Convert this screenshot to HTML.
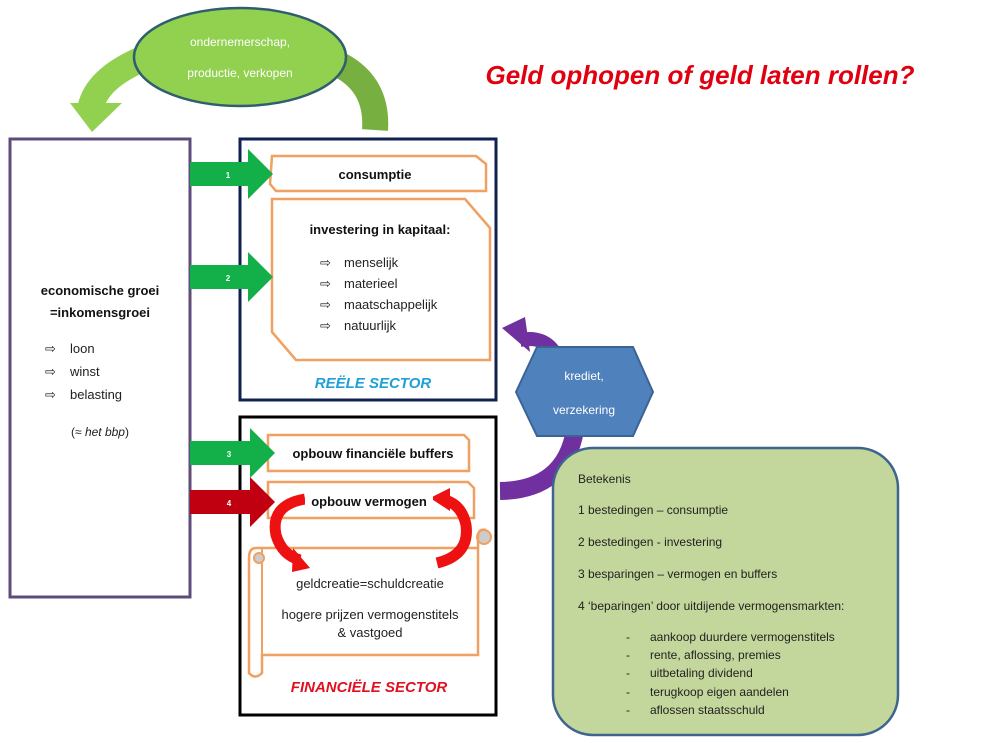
<!DOCTYPE html>
<html><head><meta charset="utf-8"><style>
html,body{margin:0;padding:0;background:#fff;}
svg{display:block;font-family:"Liberation Sans",Arial,sans-serif;}
</style></head><body>
<svg width="993" height="743" viewBox="0 0 993 743" xmlns="http://www.w3.org/2000/svg">
<!-- top green arcs -->
<path d="M140,60 Q95,80 90,110" fill="none" stroke="#92d050" stroke-width="26"/>
<polygon points="70,103 122,103 92,132" fill="#92d050"/>
<path d="M340,65 Q378,85 375,130" fill="none" stroke="#77b040" stroke-width="26"/>
<ellipse cx="240" cy="57" rx="106" ry="49" fill="#92d050" stroke="#2f5e6e" stroke-width="2.5"/>
<text x="240" y="46" font-size="12" fill="#fff" text-anchor="middle">ondernemerschap,</text>
<text x="240" y="77" font-size="12" fill="#fff" text-anchor="middle">productie, verkopen</text>
<text x="700" y="84" font-size="26" font-weight="bold" font-style="italic" fill="#e00010" text-anchor="middle">Geld ophopen of geld laten rollen?</text>

<!-- left box -->
<rect x="10" y="139" width="180" height="458" fill="#fff" stroke="#5f4b7a" stroke-width="3"/>
<text x="100" y="295" font-size="13" font-weight="bold" text-anchor="middle" fill="#111">economische groei</text>
<text x="100" y="317" font-size="13" font-weight="bold" text-anchor="middle" fill="#111">=inkomensgroei</text>
<g font-size="13" fill="#222">
<text x="45" y="353">⇨</text><text x="70" y="353">loon</text>
<text x="45" y="376">⇨</text><text x="70" y="376">winst</text>
<text x="45" y="399">⇨</text><text x="70" y="399">belasting</text>
</g>
<text x="100" y="436" font-size="12" text-anchor="middle" fill="#222">(≈ <tspan font-style="italic">het bbp</tspan>)</text>

<!-- reele box -->
<rect x="240" y="139" width="256" height="261" fill="#fff" stroke="#0f2150" stroke-width="3"/>
<polygon points="272,156 476,156 486,164 486,191 276,191 270,184" fill="#fff" stroke="#f0a060" stroke-width="2.5"/>
<text x="375" y="179" font-size="13" font-weight="bold" text-anchor="middle" fill="#111">consumptie</text>
<polygon points="272,199 465,199 490,228 490,360 296,360 272,332" fill="#fff" stroke="#f0a060" stroke-width="2.5"/>
<text x="380" y="234" font-size="13" font-weight="bold" text-anchor="middle" fill="#111">investering in kapitaal:</text>
<g font-size="13" fill="#222">
<text x="320" y="267">⇨</text><text x="344" y="267">menselijk</text>
<text x="320" y="288">⇨</text><text x="344" y="288">materieel</text>
<text x="320" y="309">⇨</text><text x="344" y="309">maatschappelijk</text>
<text x="320" y="330">⇨</text><text x="344" y="330">natuurlijk</text>
</g>
<text x="373" y="388" font-size="15" font-weight="bold" font-style="italic" fill="#1ea0d8" text-anchor="middle">REËLE SECTOR</text>

<!-- financiele box -->
<rect x="240" y="417" width="256" height="298" fill="#fff" stroke="#000" stroke-width="3"/>
<polygon points="268,435 464,435 469,440 469,471 268,471" fill="#fff" stroke="#f0a060" stroke-width="2.5"/>
<text x="373" y="458" font-size="13" font-weight="bold" text-anchor="middle" fill="#111">opbouw financiële buffers</text>
<polygon points="268,482 468,482 474,488 474,518 268,518" fill="#fff" stroke="#f0a060" stroke-width="2.5"/>
<!-- scroll -->
<path d="M256,548 L478,548 L478,655 L262,655 L262,673 Q255,680 249,673 L249,558 Q249,548 256,548 Z" fill="#fff" stroke="#f0a060" stroke-width="2.5"/>
<path d="M262,548 L262,655" stroke="#f0a060" stroke-width="2" fill="none"/>
<circle cx="484" cy="537" r="7" fill="#ccc" stroke="#f0a060" stroke-width="2"/>
<path d="M478,548 L478,537 Q478,528 486,530" fill="none" stroke="#f0a060" stroke-width="2.5"/>
<circle cx="259" cy="558" r="5" fill="#ccc" stroke="#f0a060" stroke-width="2"/>
<text x="370" y="588" font-size="13" text-anchor="middle" fill="#222">geldcreatie=schuldcreatie</text>
<text x="370" y="619" font-size="13" text-anchor="middle" fill="#222">hogere prijzen vermogenstitels</text>
<text x="370" y="637" font-size="13" text-anchor="middle" fill="#222">&amp;  vastgoed</text>
<!-- red curved arrows -->
<path d="M305,499 Q270,505 276,535 Q282,555 300,560" fill="none" stroke="#ee1111" stroke-width="11"/>
<polygon points="293,548 310,568 292,572" fill="#ee1111"/>
<path d="M437,563 Q470,555 466,525 Q462,505 445,500" fill="none" stroke="#ee1111" stroke-width="11"/>
<polygon points="450,488 430,498 450,511" fill="#ee1111"/>
<rect x="305" y="490" width="128" height="22" fill="#fff"/>
<text x="369" y="506" font-size="13" font-weight="bold" text-anchor="middle" fill="#111">opbouw vermogen</text>
<text x="369" y="692" font-size="15" font-weight="bold" font-style="italic" fill="#e01020" text-anchor="middle">FINANCIËLE SECTOR</text>

<!-- numbered arrows -->
<g>
<polygon points="190,162 248,162 248,149 273,174 248,199 248,186 190,186" fill="#13b04a"/>
<text x="228" y="178" font-size="8" font-weight="bold" fill="#fff" text-anchor="middle">1</text>
<polygon points="190,265 248,265 248,252 273,277 248,302 248,289 190,289" fill="#13b04a"/>
<text x="228" y="281" font-size="8" font-weight="bold" fill="#fff" text-anchor="middle">2</text>
<polygon points="190,441 250,441 250,428 275,453 250,478 250,465 190,465" fill="#13b04a"/>
<text x="229" y="457" font-size="8" font-weight="bold" fill="#fff" text-anchor="middle">3</text>
<polygon points="190,490 250,490 250,477 275,502 250,527 250,514 190,514" fill="#c00010"/>
<text x="229" y="506" font-size="8" font-weight="bold" fill="#fff" text-anchor="middle">4</text>
</g>

<!-- purple arcs -->
<path d="M575,430 Q565,490 500,491" fill="none" stroke="#7030a0" stroke-width="18"/>
<path d="M556,355 Q545,335 520,340" fill="none" stroke="#7030a0" stroke-width="14"/>
<polygon points="502,328 525,317 530,352" fill="#7030a0"/>
<!-- hexagon -->
<polygon points="537,347 633,347 653,392 633,436 537,436 516,392" fill="#4f81bd" stroke="#3a6496" stroke-width="2"/>
<text x="584" y="380" font-size="12" fill="#fff" text-anchor="middle">krediet,</text>
<text x="584" y="414" font-size="12" fill="#fff" text-anchor="middle">verzekering</text>

<!-- legend -->
<rect x="553" y="448" width="345" height="287" rx="40" ry="40" fill="#c3d69b" stroke="#3e6490" stroke-width="2.5"/>
<g font-size="12" fill="#222">
<text x="578" y="483">Betekenis</text>
<text x="578" y="514">1  bestedingen – consumptie</text>
<text x="578" y="546">2  bestedingen -  investering</text>
<text x="578" y="578">3  besparingen – vermogen en buffers</text>
<text x="578" y="610">4  ‘beparingen’ door uitdijende vermogensmarkten:</text>
<text x="626" y="641">-</text><text x="650" y="641">aankoop duurdere vermogenstitels</text>
<text x="626" y="659">-</text><text x="650" y="659">rente, aflossing, premies</text>
<text x="626" y="677">-</text><text x="650" y="677">uitbetaling dividend</text>
<text x="626" y="696">-</text><text x="650" y="696">terugkoop eigen aandelen</text>
<text x="626" y="714">-</text><text x="650" y="714">aflossen staatsschuld</text>
</g>
</svg>
</body></html>
